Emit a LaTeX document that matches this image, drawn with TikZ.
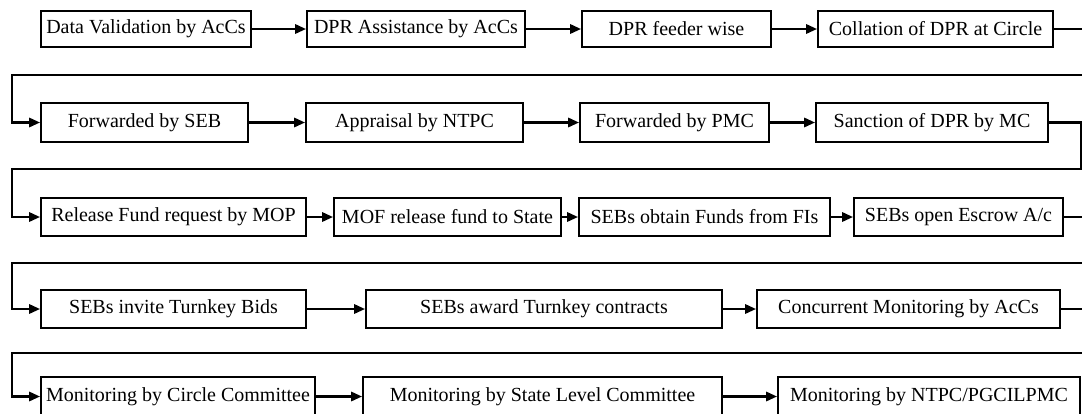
\documentclass[tikz,border=0pt]{standalone}
\usepackage{fontspec}
\setmainfont{Liberation Serif}
\usetikzlibrary{arrows.meta}
\tikzset{
  stepbox/.style={draw=black, line width=1.6pt, inner sep=0pt, font=\fontsize{20}{24}\selectfont, anchor=center},
  conn/.style={draw=black, line width=2.8pt, -{Triangle[length=11pt,width=9pt]}},
  plain/.style={draw=black, line width=2.8pt}
}
\begin{document}
\begin{tikzpicture}[x=1pt,y=-1pt]
\useasboundingbox (0,0) rectangle (1082,413);
% row 1
\node[stepbox, minimum width=210pt, minimum height=36pt] (A1) at (146,29) {Data Validation by AcCs};
\node[stepbox, minimum width=218pt, minimum height=36pt] (A2) at (416,29) {DPR Assistance by AcCs};
\node[stepbox, minimum width=189pt, minimum height=36pt] (A3) at (676.5,29) {DPR feeder wise};
\node[stepbox, minimum width=235pt, minimum height=36pt] (A4) at (935.5,29) {Collation of DPR at Circle};
% row 2
\node[stepbox, minimum width=207pt, minimum height=39pt] (B1) at (144.5,122.5) {Forwarded by SEB};
\node[stepbox, minimum width=217pt, minimum height=39pt] (B2) at (414.5,122.5) {Appraisal by NTPC};
\node[stepbox, minimum width=189pt, minimum height=39pt] (B3) at (674.5,122.5) {Forwarded by PMC};
\node[stepbox, minimum width=232pt, minimum height=39pt] (B4) at (932,122.5) {Sanction of DPR by MC};
% row 3
\node[stepbox, minimum width=265pt, minimum height=38pt] (C1) at (173.5,217) {Release Fund request by MOP};
\node[stepbox, minimum width=227pt, minimum height=38pt] (C2) at (447.5,217) {MOF release fund to State};
\node[stepbox, minimum width=251pt, minimum height=38pt] (C3) at (704.5,217) {SEBs obtain Funds from FIs};
\node[stepbox, minimum width=209pt, minimum height=38pt] (C4) at (958.5,217) {SEBs open Escrow A/c};
% row 4
\node[stepbox, minimum width=265pt, minimum height=38pt] (D1) at (173.5,309) {SEBs invite Turnkey Bids};
\node[stepbox, minimum width=356pt, minimum height=38pt] (D2) at (544,309) {SEBs award Turnkey contracts};
\node[stepbox, minimum width=303pt, minimum height=38pt] (D3) at (908.5,309) {Concurrent Monitoring by AcCs};
% row 5
\node[stepbox, minimum width=274pt, minimum height=39pt] (E1) at (178,396.5) {Monitoring by Circle Committee};
\node[stepbox, minimum width=359pt, minimum height=39pt] (E2) at (542.5,396.5) {Monitoring by State Level Committee};
\node[stepbox, minimum width=302pt, minimum height=39pt] (E3) at (929,396.5) {Monitoring by NTPC/PGCILPMC};
% in-row arrows
\draw[conn] (A1.east) -- (A2.west);
\draw[conn] (A2.east) -- (A3.west);
\draw[conn] (A3.east) -- (A4.west);
\draw[conn] (B1.east) -- (B2.west);
\draw[conn] (B2.east) -- (B3.west);
\draw[conn] (B3.east) -- (B4.west);
\draw[conn] (C1.east) -- (C2.west);
\draw[conn] (C2.east) -- (C3.west);
\draw[conn] (C3.east) -- (C4.west);
\draw[conn] (D1.east) -- (D2.west);
\draw[conn] (D2.east) -- (D3.west);
\draw[conn] (E1.east) -- (E2.west);
\draw[conn] (E2.east) -- (E3.west);
% return connectors
\coordinate (r1) at (1088,75);  \coordinate (l1) at (12,75);
\coordinate (r2) at (1081,169); \coordinate (l2) at (12,169);
\coordinate (r3) at (1088,263); \coordinate (l3) at (12,263);
\coordinate (r4) at (1088,353); \coordinate (l4) at (12,353);
\draw[conn] (A4.east) -| (r1) -- (l1) |- (B1.west);
\draw[conn] (B4.east) -| (r2) -- (l2) |- (C1.west);
\draw[conn] (C4.east) -| (r3) -- (l3) |- (D1.west);
\draw[conn] (D3.east) -| (r4) -- (l4) |- (E1.west);
\end{tikzpicture}
\end{document}
